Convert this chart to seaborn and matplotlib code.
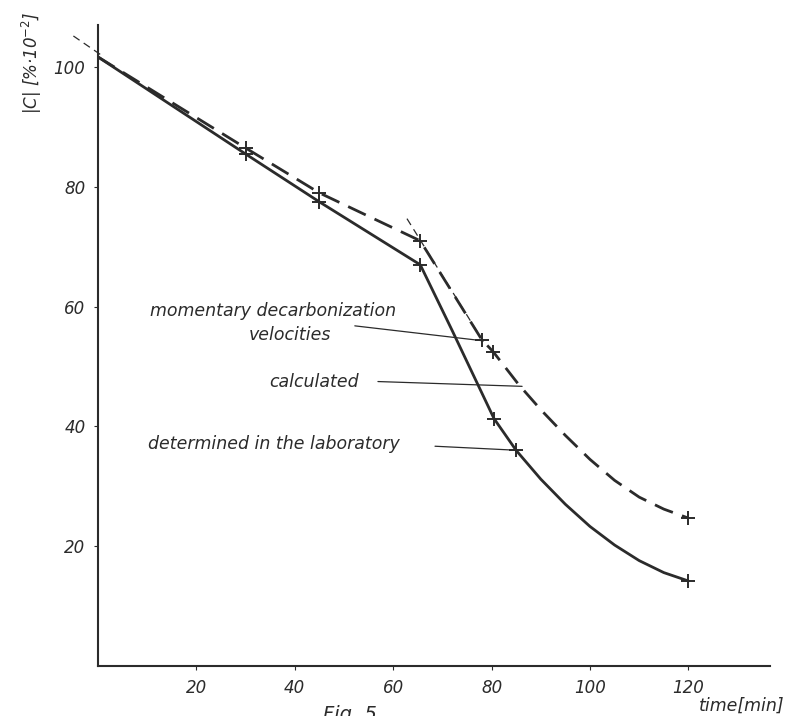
import pandas as pd
import matplotlib
matplotlib.use("Agg")
import matplotlib.pyplot as plt
import seaborn as sns

# calculated curve (dashed)
calc_time = [0, 30, 45, 65.5, 78, 80.3, 85.5, 90, 95, 100, 105, 110, 115, 120]
calc_c = [101.7, 86.5, 79, 71, 54.5, 52.5, 47, 42.8, 38.5, 34.5, 31, 28.2, 26.2, 24.7]
calc_mark_time = [30, 45, 65.5, 78, 80.3, 120]
calc_mark_c = [86.5, 79, 71, 54.5, 52.5, 24.7]

# laboratory curve (solid)
lab_time = [0, 30, 45, 65.5, 72, 80.5, 85, 90, 95, 100, 105, 110, 115, 120]
lab_c = [101.7, 85.5, 77.5, 67, 56, 41.3, 36, 31.2, 27, 23.3, 20.2, 17.6, 15.6, 14.2]
lab_mark_time = [30, 45, 65.5, 80.5, 85, 120]
lab_mark_c = [85.5, 77.5, 67, 41.3, 36, 14.2]

# momentary velocity tangents (thin dashed)
tan1_time = [-5, 0.5]
tan1_c = [105.2, 102.1]
tan2_time = [62.8, 78.3]
tan2_c = [74.7, 54.2]

x_ticks = [20, 40, 60, 80, 100, 120]
y_ticks = [20, 40, 60, 80, 100]

sns.set_theme(style="ticks")
plt.rcParams["font.family"] = ["DejaVu Sans"]
ink = "#2b2b2b"

fig = plt.figure(figsize=(7.87, 7.16), dpi=100)
ax = fig.add_axes([0.1245, 0.0698, 0.854, 0.895])

calc = pd.DataFrame({"time": calc_time, "c": calc_c})
lab = pd.DataFrame({"time": lab_time, "c": lab_c})

sns.lineplot(data=calc, x="time", y="c", ax=ax, color=ink, lw=2.0,
             linestyle=(0, (7, 3.5)), sort=False, estimator=None)
sns.lineplot(data=lab, x="time", y="c", ax=ax, color=ink, lw=2.0,
             sort=False, estimator=None)
sns.scatterplot(x=calc_mark_time, y=calc_mark_c, ax=ax, marker="+", s=110,
                color=ink, linewidth=1.4)
sns.scatterplot(x=lab_mark_time, y=lab_mark_c, ax=ax, marker="+", s=110,
                color=ink, linewidth=1.4)

ax.plot(tan1_time, tan1_c, color=ink, lw=0.9, linestyle=(0, (6, 4)), clip_on=False)
ax.plot(tan2_time, tan2_c, color=ink, lw=0.9, linestyle=(0, (6, 4)))

# leader annotations
tstyle = dict(fontsize=12.5, style="italic", color=ink)
lead = dict(arrowstyle="-", color=ink, lw=0.9, shrinkA=0, shrinkB=0)
ax.text(10.6, 59.3, "momentary decarbonization", va="center", ha="left", **tstyle)
ax.text(39, 55.3, "velocities", va="center", ha="center", **tstyle)
ax.annotate("", xy=(78.3, 54.3), xytext=(52.2, 56.8), arrowprops=lead)
ax.text(44, 47.5, "calculated", va="center", ha="center", **tstyle)
ax.annotate("", xy=(86.2, 46.7), xytext=(56.9, 47.5), arrowprops=lead)
ax.text(10.2, 37, "determined in the laboratory", va="center", ha="left", **tstyle)
ax.annotate("", xy=(85.8, 36), xytext=(68.5, 36.7), arrowprops=lead)

ax.set_xlim(0, 136.6)
ax.set_ylim(0, 107)
ax.set_xticks(x_ticks)
ax.set_yticks(y_ticks)
ax.set_xticklabels([str(t) for t in x_ticks], fontsize=12, style="italic", color=ink)
ax.set_yticklabels([str(t) for t in y_ticks], fontsize=12, style="italic", color=ink)
ax.tick_params(length=3, width=0.8, color=ink, pad=6)
ax.set_xlabel("")
ax.set_ylabel("")
sns.despine(ax=ax)
for s in ["left", "bottom"]:
    ax.spines[s].set_color(ink)
    ax.spines[s].set_linewidth(1.5)

fig.text(0.04, 0.912, "|C| [%·10$^{-2}$]", rotation=90, ha="center", va="center",
         fontsize=12, style="italic", color=ink)
fig.text(0.997, 0.015, "time[min]", ha="right", va="center",
         fontsize=12.5, style="italic", color=ink)
fig.text(0.445, 0.002, "Fig. 5", ha="center", va="center",
         fontsize=14, style="italic", color=ink)

fig.savefig("out.png", dpi=100)
